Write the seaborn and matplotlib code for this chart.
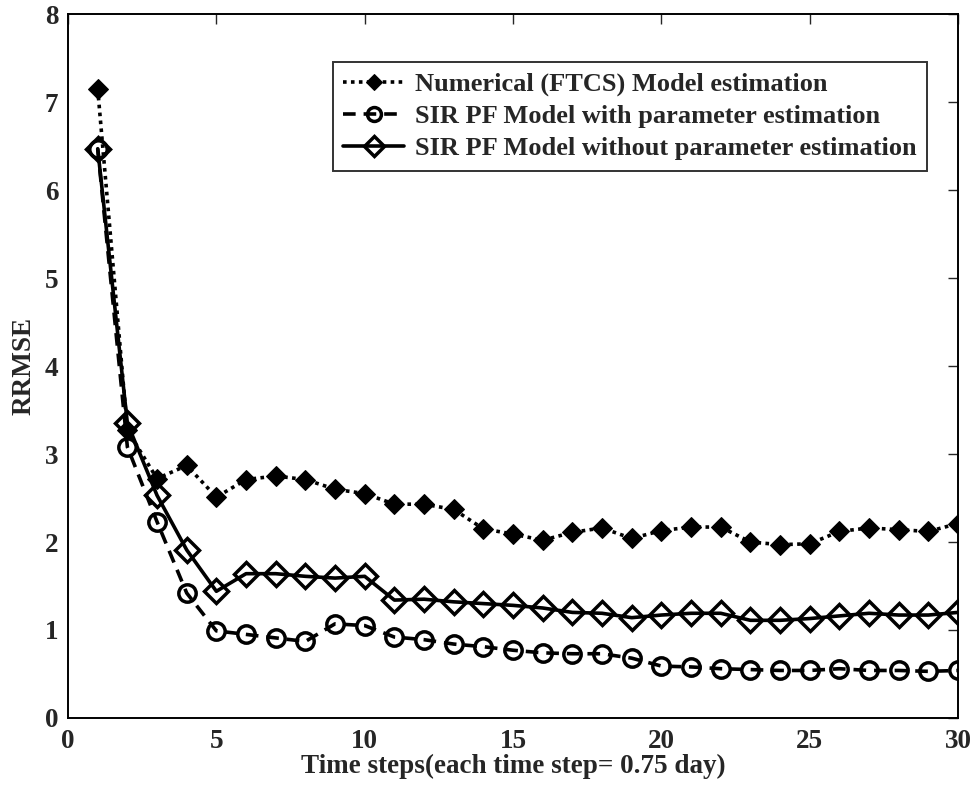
import numpy as np
import pandas as pd
import seaborn as sns
import matplotlib
matplotlib.use("Agg")
import matplotlib.pyplot as plt

# Time steps and RRMSE values for each estimation approach
steps = list(range(1, 31))
ftcs = [7.15, 3.27, 2.72, 2.87, 2.51, 2.71, 2.75, 2.71, 2.60, 2.55,
        2.43, 2.43, 2.37, 2.15, 2.09, 2.02, 2.11, 2.16, 2.04, 2.13,
        2.17, 2.17, 2.00, 1.97, 1.98, 2.12, 2.16, 2.14, 2.12, 2.21]
pf_with = [6.47, 3.08, 2.23, 1.42, 0.99, 0.95, 0.91, 0.87, 1.07, 1.05,
           0.92, 0.89, 0.84, 0.81, 0.77, 0.74, 0.73, 0.73, 0.68, 0.59,
           0.58, 0.56, 0.55, 0.54, 0.54, 0.56, 0.54, 0.54, 0.53, 0.54]
pf_without = [6.47, 3.35, 2.53, 1.91, 1.44, 1.64, 1.64, 1.61, 1.59, 1.61,
              1.34, 1.35, 1.32, 1.30, 1.28, 1.25, 1.20, 1.19, 1.14, 1.17,
              1.19, 1.19, 1.11, 1.11, 1.13, 1.16, 1.19, 1.17, 1.17, 1.20]
labels = ["Numerical (FTCS) Model estimation",
          "SIR PF Model with parameter estimation",
          "SIR PF Model without parameter estimation"]
x_ticks = [0, 5, 10, 15, 20, 25, 30]
y_ticks = [0, 1, 2, 3, 4, 5, 6, 7, 8]

sns.set_theme(style="white")
plt.rcParams["font.family"] = ["Liberation Serif", "DejaVu Serif"]
plt.rcParams["font.weight"] = "bold"

fig = plt.figure(figsize=(9.79, 7.87), dpi=100)
ax = fig.add_axes([0.0695, 0.0877, 0.9091, 0.8944])

styles = [
    dict(linestyle=(0, (1, 1.2)), marker="D", markersize=10,
         markerfacecolor="black", markeredgecolor="black"),
    dict(linestyle=(0, (3.5, 2.2)), marker="o", markersize=12.5,
         markerfacecolor="none", markeredgecolor="black", markeredgewidth=2.5),
    dict(linestyle="-", marker="D", markersize=12.5,
         markerfacecolor="none", markeredgecolor="black", markeredgewidth=2.5),
]
for values, label, st in zip([ftcs, pf_with, pf_without], labels, styles):
    df = pd.DataFrame({"step": steps, "rrmse": values})
    sns.lineplot(data=df, x="step", y="rrmse", ax=ax, color="black",
                 linewidth=2.6, label=label, **st)

ax.set_xlim(0, 30)
ax.set_ylim(0, 8)
ax.set_xticks(x_ticks)
ax.set_yticks(y_ticks)
ax.tick_params(direction="in", length=7, width=1, top=True, right=True,
               labelsize=19.5)
ax.tick_params(axis="x", pad=8)
ax.tick_params(axis="y", pad=7)
for lab in ax.get_xticklabels() + ax.get_yticklabels():
    lab.set_fontweight("bold")
for sp in ax.spines.values():
    sp.set_color("black")
    sp.set_linewidth(1.4)

ax.set_xlabel("Time steps(each time step= 0.75 day)", fontsize=19.5,
              fontweight="bold", labelpad=0)
ax.set_ylabel("RRMSE", fontsize=19.5, fontweight="bold", labelpad=6)

leg = ax.legend(loc="upper right", bbox_to_anchor=(0.965, 0.932),
                frameon=True, fancybox=False, markerscale=0.8,
                handlelength=2.3, handletextpad=0.4, borderpad=0.4,
                borderaxespad=0, labelspacing=0.32,
                prop={"weight": "bold", "size": 19})
leg.get_frame().set_edgecolor("black")
leg.get_frame().set_linewidth(1.4)

fig.savefig("out.png", dpi=100)
